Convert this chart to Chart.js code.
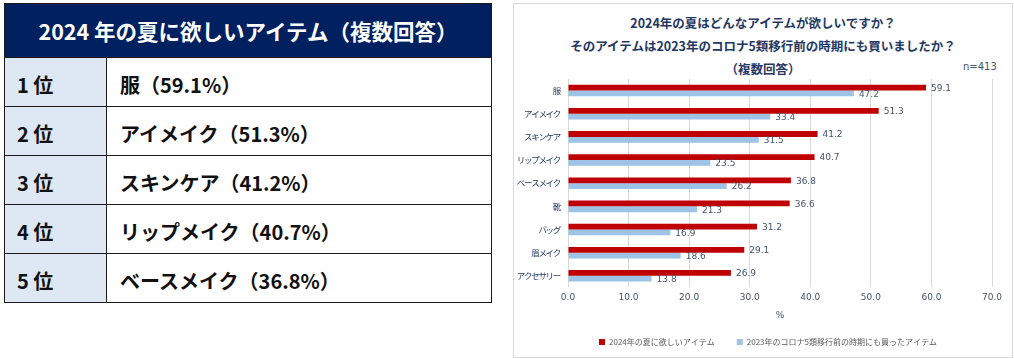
<!DOCTYPE html>
<html lang="ja">
<head>
<meta charset="utf-8">
<script src="https://cdn.jsdelivr.net/npm/chart.js@4.4.1/dist/chart.umd.min.js"></script>
<style>
  html, body { margin: 0; padding: 0; background: #fff; width: 1014px; height: 358px; overflow: hidden; }
  body { position: relative; font-family: "Noto Sans CJK JP", sans-serif; }
  #rank { position: absolute; left: 4px; top: 3px; width: 488px; border-collapse: collapse; }
  #rank th { background: #002060; color: #fff; font-weight: bold; font-size: 21.5px; height: 54px; padding: 0; text-align: center; border: 1.5px solid #1a1a1a; box-sizing: border-box; }
  #rank td { height: 49px; box-sizing: border-box; font-size: 20px; font-weight: bold; color: #111; border: 1.5px solid #1a1a1a; padding: 4px 0 0 0; }
  #rank td.r { background: #dde8f4; width: 102px; padding-left: 12px; }
  #rank td.v { padding-left: 13px; }
  #panel { position: absolute; left: 513px; top: 3px; width: 500px; height: 355px; border: 1px solid #d9d9d9; box-sizing: border-box; }
  .t { position: absolute; left: 513px; width: 500px; text-align: center; font-weight: bold; font-size: 12.5px; color: #1f3864; line-height: 16px; }
  #n { position: absolute; left: 963px; top: 61px; font-size: 10px; color: #44546a; font-family: "DejaVu Sans", sans-serif; }
  #wrap { position: absolute; left: 514px; top: 4px; width: 497px; height: 352px; }
</style>
</head>
<body>
<table id="rank">
  <tr><th colspan="2">2024 年の夏に欲しいアイテム（複数回答）</th></tr>
  <tr><td class="r">1 位</td><td class="v">服（59.1%）</td></tr>
  <tr><td class="r">2 位</td><td class="v">アイメイク（51.3%）</td></tr>
  <tr><td class="r">3 位</td><td class="v">スキンケア（41.2%）</td></tr>
  <tr><td class="r">4 位</td><td class="v">リップメイク（40.7%）</td></tr>
  <tr><td class="r">5 位</td><td class="v">ベースメイク（36.8%）</td></tr>
</table>
<div id="panel"></div>
<div class="t" style="top:15px">2024年の夏はどんなアイテムが欲しいですか？</div>
<div class="t" style="top:38px">そのアイテムは2023年のコロナ5類移行前の時期にも買いましたか？</div>
<div class="t" style="top:61px">（複数回答）</div>
<div id="n">n=413</div>
<div id="wrap"><canvas id="c" width="497" height="352"></canvas></div>
<script>
const categories = ["服", "アイメイク", "スキンケア", "リップメイク", "ベースメイク", "靴", "バッグ", "眉メイク", "アクセサリー"];
const series2024 = [59.1, 51.3, 41.2, 40.7, 36.8, 36.6, 31.2, 29.1, 26.9];
const series2023 = [47.2, 33.4, 31.5, 23.5, 26.2, 21.3, 16.9, 18.6, 13.8];
const seriesNames = ["2024年の夏に欲しいアイテム", "2023年のコロナ5類移行前の時期にも買ったアイテム"];
const xTicks = [0, 10, 20, 30, 40, 50, 60, 70];

const labelColor = "#44546A";

const barLabels = {
  id: "barLabels",
  afterDatasetsDraw(chart) {
    const ctx = chart.ctx;
    ctx.save();
    ctx.font = '9px "DejaVu Sans"';
    ctx.fillStyle = labelColor;
    ctx.textAlign = "left";
    ctx.textBaseline = "middle";
    chart.data.datasets.forEach((ds, i) => {
      chart.getDatasetMeta(i).data.forEach((bar, j) => {
        ctx.fillText(ds.data[j].toFixed(1), bar.x + 5, bar.y + 1);
      });
    });
    ctx.restore();
  }
};

const narrowY = {
  id: "narrowY",
  afterUpdate(chart) {
    const s = chart.scales.y;
    if (s && !s._narrow) {
      const orig = s.drawLabels.bind(s);
      s._computeLabelArea = function () { return undefined; };
      s.drawLabels = function (area) {
        const c = this.ctx;
        c.save();
        c.letterSpacing = "-1.3px";
        orig(area);
        c.restore();
      };
      s._narrow = true;
    }
  }
};

new Chart(document.getElementById("c"), {
  type: "bar",
  data: {
    labels: categories,
    datasets: [
      { label: seriesNames[0], data: series2024, backgroundColor: "#C00000", categoryPercentage: 0.5, barPercentage: 1.0 },
      { label: seriesNames[1], data: series2023, backgroundColor: "#9DC3E6", categoryPercentage: 0.5, barPercentage: 1.0 }
    ]
  },
  options: {
    indexAxis: "y",
    responsive: false,
    animation: false,
    devicePixelRatio: 1,
    layout: { padding: { top: 75, right: 19, left: 30, bottom: 0 } },
    scales: {
      x: {
        min: xTicks[0], max: xTicks[xTicks.length - 1],
        afterBuildTicks(s) { s.ticks = xTicks.map(v => ({ value: v })); },
        ticks: { callback: v => Number(v).toFixed(1), padding: 5, color: labelColor, font: { family: "DejaVu Sans", size: 9 } },
        grid: { color: "#d9d9d9", drawTicks: false },
        border: { display: false },
        title: { display: true, text: "%", color: labelColor, font: { family: "DejaVu Sans", size: 9 }, padding: { top: 2, bottom: -5 } }
      },
      y: {
        afterFit(s) { s.width = 24; },
        ticks: { padding: 0, color: "#203864", font: { family: "Noto Sans CJK JP", size: 8.5 } },
        grid: { display: false },
        border: { display: false }
      }
    },
    plugins: {
      legend: {
        position: "bottom",
        labels: { boxWidth: 6, boxHeight: 6, padding: 22, color: "#595959", font: { family: "Noto Sans CJK JP", size: 8 } }
      },
      tooltip: { enabled: false },
      title: { display: false }
    }
  },
  plugins: [barLabels, narrowY]
});
</script>
</body>
</html>
